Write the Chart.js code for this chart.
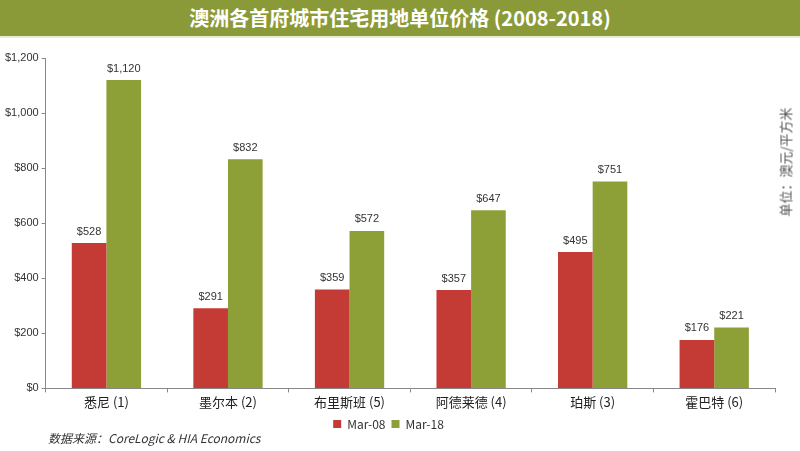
<!DOCTYPE html>
<html>
<head>
<meta charset="utf-8">
<script src="https://cdn.jsdelivr.net/npm/chart.js@4/dist/chart.umd.min.js"></script>
<style>
  body { margin: 0; background: #fff; font-family: "Noto Sans CJK SC", "Liberation Sans", sans-serif; }
  .page { position: relative; width: 800px; height: 451px; overflow: hidden; }
  .title { height: 36px; line-height: 36px; background: #8b9a38; color: #fff; text-align: center;
           font-size: 20px; font-weight: bold; border-bottom: 2px solid #e9ecd0; }
  .chart-box { position: absolute; left: 0; top: 38px; width: 800px; height: 402px; }
  .unit { position: absolute; left: 785px; top: 162px; transform: translate(-50%, -50%) rotate(-90deg);
          font-size: 13px; color: #555; white-space: nowrap; }
  .source { position: absolute; left: 48px; top: 429px; font-size: 12px; font-style: italic; color: #333; }
</style>
</head>
<body>
<div class="page">
  <div class="title">澳洲各首府城市住宅用地单位价格 (2008-2018)</div>
  <div class="chart-box"><canvas id="chart"></canvas></div>
  <div class="unit">单位：澳元/平方米</div>
  <div class="source">数据来源：CoreLogic &amp; HIA Economics</div>
</div>
<script>
const cities = ['悉尼 (1)', '墨尔本 (2)', '布里斯班 (5)', '阿德莱德 (4)', '珀斯 (3)', '霍巴特 (6)'];
const mar08 = [528, 291, 359, 357, 495, 176];
const mar18 = [1120, 832, 572, 647, 751, 221];
const seriesNames = ['Mar-08', 'Mar-18'];

const money = v => '$' + v.toLocaleString('en-US');

// value labels above each bar
const barLabels = {
    id: 'barLabels',
    afterDatasetsDraw(chart) {
        const ctx = chart.ctx;
        ctx.save();
        ctx.font = '11px "Liberation Sans", Arial, sans-serif';
        ctx.fillStyle = '#333';
        ctx.textAlign = 'center';
        ctx.textBaseline = 'bottom';
        chart.data.datasets.forEach((ds, i) => {
            chart.getDatasetMeta(i).data.forEach((bar, j) => {
                ctx.fillText(money(ds.data[j]), bar.x, bar.y - 6);
            });
        });
        ctx.restore();
    }
};

new Chart(document.getElementById('chart'), {
    type: 'bar',
    data: {
        labels: cities,
        datasets: [
            { label: seriesNames[0], data: mar08, backgroundColor: '#c43b35' },
            { label: seriesNames[1], data: mar18, backgroundColor: '#8d9f37' }
        ]
    },
    options: {
        responsive: true,
        maintainAspectRatio: false,
        animation: false,
        layout: { padding: { top: 20, left: 2, right: 25, bottom: 0 } },
        plugins: {
            legend: {
                position: 'bottom',
                labels: {
                    boxWidth: 8, boxHeight: 8, padding: 6,
                    color: '#333',
                    font: { size: 12, family: '"Noto Sans CJK SC", sans-serif' }
                }
            },
            tooltip: { enabled: false }
        },
        datasets: { bar: { categoryPercentage: 0.57, barPercentage: 1.0 } },
        scales: {
            x: {
                grid: { drawOnChartArea: false, drawTicks: true, tickLength: 4, color: '#888' },
                border: { color: '#888' },
                ticks: { color: '#222', font: { size: 13, family: '"Noto Sans CJK SC", sans-serif' }, padding: 2 }
            },
            y: {
                min: 0, max: 1200,
                grid: { drawOnChartArea: false, drawTicks: true, tickLength: 4, color: '#888' },
                border: { color: '#888' },
                ticks: {
                    stepSize: 200,
                    color: '#333',
                    padding: 3,
                    font: { size: 11, family: '"Liberation Sans", Arial, sans-serif' },
                    callback: v => money(v)
                }
            }
        }
    },
    plugins: [barLabels]
});
</script>
</body>
</html>
